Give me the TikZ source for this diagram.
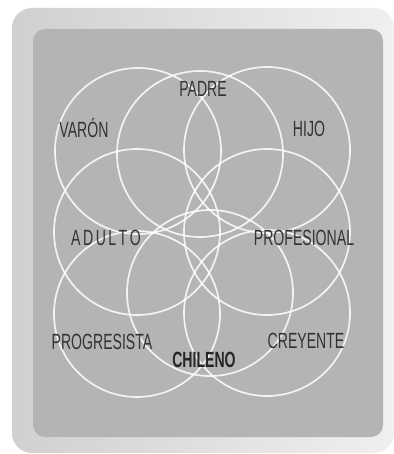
\documentclass[tikz,border=0pt]{standalone}
\usepackage{fontspec}
\setmainfont[FakeStretch=0.64]{Liberation Sans}
\definecolor{marco}{HTML}{B4B4B5}
\definecolor{borde}{HTML}{D0D0D0}
\definecolor{tinta}{HTML}{333333}
\usepackage{tikz}
\usetikzlibrary{positioning}

\begin{document}
\begin{tikzpicture}[x=1pt, y=-1pt,
  ring/.style={circle, draw=white, draw opacity=0.85, line width=1.7pt,
               minimum size=166pt, inner sep=0pt},
  rol/.style={text=tinta, font=\fontsize{22}{22}\selectfont, inner sep=0pt, anchor=center}]
\useasboundingbox (0,0) rectangle (393,454);
\shade[left color=borde, right color=gray!12, rounded corners=20pt] (12,8) rectangle (394,453);
\fill[marco, rounded corners=12pt] (33,29) rectangle (383,437);

\node[ring] (varon) at (138,151) {};
\node[ring] (padre) at (200,154) {};
\node[ring] (hijo) at (267,150) {};
\node[ring] (adulto) at (137,232) {};
\node[ring] (profesional) at (267,232) {};
\node[ring] (progresista) at (137,314) {};
\node[ring] (chileno) at (210,293) {};
\node[ring] (creyente) at (267,313) {};

\node[rol] (lvaron) at (84,128) {VARÓN};
\node[rol] (lpadre) at (203,89) {PADRE};
\node[rol] (lhijo) at (309,129) {HIJO};
\node[rol] (ladulto) at (106,238) {A\kern2.5pt D\kern2.5pt U\kern2.5pt L\kern2.5pt T\kern2.5pt O};
\node[rol] (lprofesional) at (304,238) {PROFESIONAL};
\node[rol] (lprogresista) at (102,342) {PROGRESISTA};
\node[rol, font=\fontsize{22}{22}\selectfont\bfseries, text=black!85] (lchileno) at (204,360) {CHILENO};
\node[rol] (lcreyente) at (306,341) {CREYENTE};
\end{tikzpicture}
\end{document}
